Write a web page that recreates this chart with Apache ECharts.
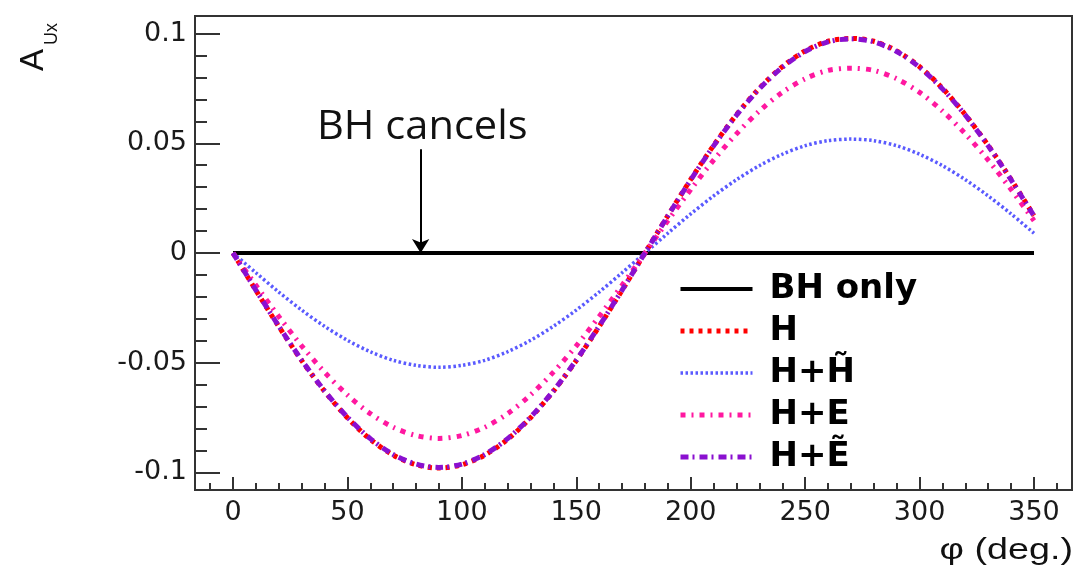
<!DOCTYPE html>
<html>
<head>
<meta charset="utf-8">
<script src="https://cdn.jsdelivr.net/npm/echarts@6/dist/echarts.min.js"></script>
<style>
  html, body { margin: 0; padding: 0; background: #fff; }
  #chart { width: 1089px; height: 575px; }
</style>
</head>
<body>
<div id="chart"></div>
<script>
// phi (deg.) sample points
var phi = [0, 10, 20, 30, 40, 50, 60, 70, 80, 90, 100, 110, 120, 130, 140, 150, 160, 170,
           180, 190, 200, 210, 220, 230, 240, 250, 260, 270, 280, 290, 300, 310, 320, 330, 340, 350];

// A_Ux
var bhOnly = [0, 0, 0, 0, 0, 0, 0, 0, 0, 0, 0, 0, 0, 0, 0, 0, 0, 0,
              0, 0, 0, 0, 0, 0, 0, 0, 0, 0, 0, 0, 0, 0, 0, 0, 0, 0];
var hOnly = [0, -0.0170, -0.0335, -0.0490, -0.0630, -0.0751, -0.0849, -0.0921, -0.0965, -0.0980,
             -0.0965, -0.0921, -0.0849, -0.0751, -0.0630, -0.0490, -0.0335, -0.0170,
             0, 0.0170, 0.0335, 0.0490, 0.0630, 0.0751, 0.0849, 0.0921, 0.0965, 0.0978,
             0.0965, 0.0921, 0.0849, 0.0751, 0.0630, 0.0490, 0.0335, 0.0170];
var hHt = [0, -0.0090, -0.0178, -0.0260, -0.0334, -0.0398, -0.0450, -0.0489, -0.0512, -0.0521,
           -0.0512, -0.0489, -0.0450, -0.0398, -0.0334, -0.0260, -0.0178, -0.0090,
           0, 0.0090, 0.0178, 0.0260, 0.0334, 0.0398, 0.0450, 0.0489, 0.0512, 0.0519,
           0.0512, 0.0489, 0.0450, 0.0398, 0.0334, 0.0260, 0.0178, 0.0090];
var hE = [0, -0.0147, -0.0289, -0.0423, -0.0543, -0.0647, -0.0732, -0.0794, -0.0832, -0.0845,
          -0.0832, -0.0794, -0.0732, -0.0647, -0.0543, -0.0423, -0.0289, -0.0147,
          0, 0.0147, 0.0289, 0.0423, 0.0543, 0.0647, 0.0732, 0.0794, 0.0832, 0.0842,
          0.0832, 0.0794, 0.0732, 0.0647, 0.0543, 0.0423, 0.0289, 0.0147];
var hEt = [0, -0.0169, -0.0333, -0.0488, -0.0628, -0.0748, -0.0846, -0.0918, -0.0962, -0.0977,
           -0.0962, -0.0918, -0.0846, -0.0748, -0.0628, -0.0488, -0.0333, -0.0169,
           0, 0.0169, 0.0333, 0.0488, 0.0628, 0.0748, 0.0846, 0.0918, 0.0962, 0.0976,
           0.0962, 0.0918, 0.0846, 0.0748, 0.0628, 0.0488, 0.0333, 0.0169];

var names = ['BH only', 'H', 'H+H\u0303', 'H+E', 'H+\u1EBC'];

// axis ticks
var xMajor = [0, 50, 100, 150, 200, 250, 300, 350];
var xMinor = [-10, 0, 10, 20, 30, 40, 50, 60, 70, 80, 90, 100, 110, 120, 130, 140, 150, 160, 170, 180,
              190, 200, 210, 220, 230, 240, 250, 260, 270, 280, 290, 300, 310, 320, 330, 340, 350, 360];
var yMajor = [-0.1, -0.05, 0, 0.05, 0.1];
var yMinor = [-0.1, -0.09, -0.08, -0.07, -0.06, -0.05, -0.04, -0.03, -0.02, -0.01, 0,
              0.01, 0.02, 0.03, 0.04, 0.05, 0.06, 0.07, 0.08, 0.09, 0.1];

function pairs(ys) {
    var out = [];
    for (var i = 0; i < phi.length; i++) out.push([phi[i], ys[i]]);
    return out;
}

var chart = echarts.init(document.getElementById('chart'), null, {renderer: 'canvas'});

var axisColor = '#333';
var labelFont = {fontFamily: 'DejaVu Sans', fontSize: 27, color: '#1a1a1a'};

var option = {
    animation: false,
    backgroundColor: '#fff',
    grid: {
        left: 195, right: 17, top: 16, bottom: 85,
        show: true, borderColor: axisColor, borderWidth: 2
    },
    xAxis: [{
        type: 'value', min: -16.6, max: 366.6,
        axisLine: {show: true, onZero: false, lineStyle: {color: axisColor, width: 2}},
        axisTick: {show: true, inside: true, length: 13, customValues: xMajor,
                   lineStyle: {color: axisColor, width: 2}},
        axisLabel: Object.assign({customValues: xMajor, margin: 9}, labelFont),
        splitLine: {show: false}
    }, {
        type: 'value', min: -16.6, max: 366.6, position: 'bottom',
        axisLine: {show: false, onZero: false},
        axisTick: {show: true, inside: true, length: 7, customValues: xMinor,
                   lineStyle: {color: axisColor, width: 2}},
        axisLabel: {show: false},
        splitLine: {show: false}
    }],
    yAxis: [{
        type: 'value', min: -0.108, max: 0.108,
        axisLine: {show: true, onZero: false, lineStyle: {color: axisColor, width: 2}},
        axisTick: {show: true, inside: true, length: 25, customValues: yMajor,
                   lineStyle: {color: axisColor, width: 2}},
        axisLabel: Object.assign({customValues: yMajor, margin: 8}, labelFont),
        splitLine: {show: false}
    }, {
        type: 'value', min: -0.108, max: 0.108, position: 'left',
        axisLine: {show: false, onZero: false},
        axisTick: {show: true, inside: true, length: 12, customValues: yMinor,
                   lineStyle: {color: axisColor, width: 2}},
        axisLabel: {show: false},
        splitLine: {show: false}
    }],
    legend: {
        orient: 'vertical',
        left: 678, top: 271,
        itemWidth: 72, itemHeight: 14, itemGap: 6,
        padding: 0,
        data: names,
        itemStyle: {opacity: 0},
        lineStyle: {width: 'inherit'},
        textStyle: {fontFamily: 'DejaVu Sans', fontWeight: 'bold', fontSize: 34,
                    color: '#000', lineHeight: 36, padding: [0, 0, 0, 12]}
    },
    graphic: [
        {type: 'text', left: 317, top: 108, scaleX: 1.04,
         style: {text: 'BH cancels', font: '40px "Open Sans"', fill: '#111'}},
        {type: 'text', x: 17, y: 71, rotation: Math.PI / 2,
         style: {text: 'A', font: '33px "Liberation Sans"', fill: '#111'}},
        {type: 'text', x: 43, y: 45, rotation: Math.PI / 2,
         style: {text: 'Ux', font: '18px "Liberation Sans"', fill: '#111'}},
        {type: 'text', right: 16, top: 536, scaleX: 1.3,
         style: {text: '\u03C6 (deg.)', font: '29px "Liberation Sans"', fill: '#111'}}
    ],
    series: [{
        name: names[0], type: 'line', data: pairs(bhOnly),
        showSymbol: false, symbol: 'none',
        lineStyle: {color: '#000', width: 4, type: 'solid'},
        itemStyle: {color: '#000'},
        markLine: {
            silent: true,
            symbol: ['none', 'arrow'],
            symbolSize: [13, 14],
            label: {show: false},
            lineStyle: {color: '#000', width: 2, type: 'solid'},
            data: [[{coord: [82, 0.0473]}, {coord: [82, 0]}]]
        }
    }, {
        name: names[1], type: 'line', data: pairs(hOnly),
        showSymbol: false, symbol: 'none', smooth: 0.3,
        lineStyle: {color: '#ff0000', width: 5, type: [4, 5]},
        itemStyle: {color: '#ff0000'}
    }, {
        name: names[2], type: 'line', data: pairs(hHt),
        showSymbol: false, symbol: 'none', smooth: 0.3,
        lineStyle: {color: '#5a5aff', width: 3.5, type: [2.5, 2.5]},
        itemStyle: {color: '#5a5aff'}
    }, {
        name: names[3], type: 'line', data: pairs(hE),
        showSymbol: false, symbol: 'none', smooth: 0.3,
        lineStyle: {color: '#ff18a0', width: 5, type: [5, 6, 2, 6]},
        itemStyle: {color: '#ff18a0'}
    }, {
        name: names[4], type: 'line', data: pairs(hEt),
        showSymbol: false, symbol: 'none', smooth: 0.3,
        lineStyle: {color: '#8a10d0', width: 5, type: [8, 4, 2, 5]},
        itemStyle: {color: '#8a10d0'}
    }]
};

chart.setOption(option);
</script>
</body>
</html>
